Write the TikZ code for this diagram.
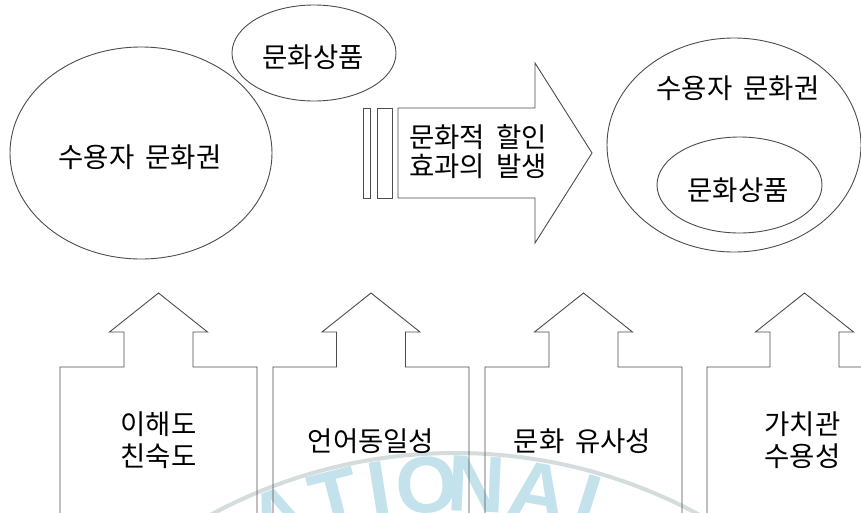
\documentclass[tikz,border=0pt]{standalone}
\usepackage{fontspec}
\setmainfont{Noto Sans CJK KR}[WordSpace=1.8]
\newfontfamily\wmfont{Liberation Sans Bold}
\usetikzlibrary{shapes.geometric}
\definecolor{wmblue}{RGB}{196,226,236}
\definecolor{wmring}{RGB}{212,220,222}
\begin{document}
\begin{tikzpicture}[x=1pt,y=-1pt,
  line/.style={draw=black!70, line width=0.9pt},
  lbl/.style={font=\fontsize{27.5}{32}\selectfont, align=center, inner sep=0pt, text=black},
  wm/.style={font=\wmfont\fontsize{80}{80}\selectfont, text=wmblue, inner sep=0pt}
]
\useasboundingbox (0,0) rectangle (861,512);
\fill[white] (0,0) rectangle (861,512);
\clip (0,0) rectangle (861,512);

% watermark
\draw[wmring, line width=4pt] (455,966) circle [radius=513];
\foreach \ch/\a in {A/-21.5, T/-14.4, I/-9, O/-3.4, N/2.6, A/10, L/17.5}
  \node[wm, rotate=-\a] at ({455+482*sin(\a)},{966-482*cos(\a)}) {\ch};

% ellipses
\node[ellipse, line, inner sep=0pt, minimum width=262pt, minimum height=212pt] (lell) at (141,153) {};
\node[ellipse, line, inner sep=0pt, minimum width=164pt, minimum height=96pt] (sell) at (314,53) {};
\node[ellipse, line, inner sep=0pt, minimum width=254pt, minimum height=214pt] (rell) at (734,145) {};
\node[ellipse, line, inner sep=0pt, minimum width=165pt, minimum height=96pt] (iell) at (739.5,185) {};

% bars and big arrow
\draw[line] (363,108) rectangle (370,198);
\draw[line] (377,108) rectangle (392,198);
\draw[line] (398,108) -- (535,108) -- (535,63) -- (592,153) -- (535,243) -- (535,198) -- (398,198) -- cycle;

% upward block arrows
\foreach \c/\L/\R in {158.5/60/257, 371/273/469, 583.5/485/682, 804.5/707/901}
  \draw[line] (\L,520) -- (\L,367) -- (\c-34.5,367) -- (\c-34.5,332) -- (\c-49,332)
     -- (\c,293) -- (\c+49,332) -- (\c+34.5,332) -- (\c+34.5,367) -- (\R,367) -- (\R,520);

% texts
\node[lbl] (t1) at (140,157) {수용자 문화권};
\node[lbl] (t2) at (313,57.5) {문화상품};
\node[lbl, align=left, font=\fontsize{27.5}{29}\selectfont] (t3) at (478,152) {문화적 할인\\효과의 발생};
\node[lbl] (t4) at (738,88) {수용자 문화권};
\node[lbl] (t5) at (738,190) {문화상품};
\node[lbl] (b1) at (158.5,440) {이해도\\친숙도};
\node[lbl] (b2) at (371,441) {언어동일성};
\node[lbl] (b3) at (582.5,441) {문화 유사성};
\node[lbl] (b4) at (802.5,440) {가치관\\수용성};
\end{tikzpicture}
\end{document}
